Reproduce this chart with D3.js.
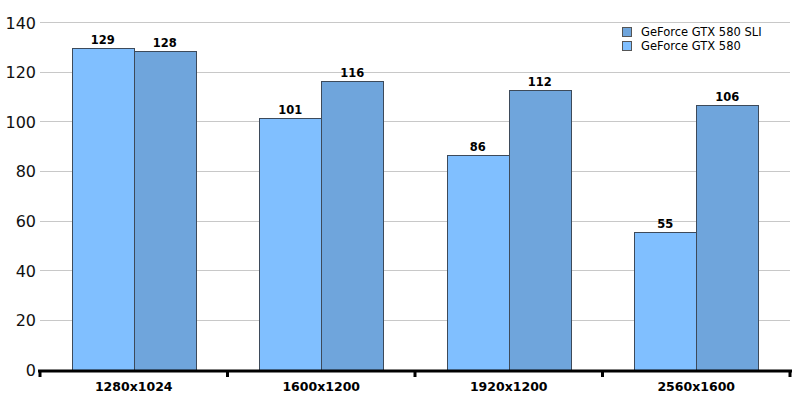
<!DOCTYPE html>
<html><head><meta charset="utf-8">
<script src="https://cdn.jsdelivr.net/npm/d3@7"></script>
<style>body{margin:0;background:#fff;} svg{display:block;}</style>
</head><body>
<svg id="c" width="805" height="405"></svg>
<script>
const categories = ["1280x1024","1600x1200","1920x1200","2560x1600"];
const seriesNames = ["GeForce GTX 580","GeForce GTX 580 SLI"];
const gtx580 = [129,101,86,55];
const gtx580sli = [128,116,112,106];
const yTicks = [0,20,40,60,80,100,120,140];
const colors = ["#80BFFF","#6FA5DC"];

const svg = d3.select("#c");
const x0 = d3.scaleBand().domain(categories).range([40,790]).padding(0);
const x1 = d3.scaleBand().domain(seriesNames).range([0, x0.bandwidth()]).paddingInner(0).paddingOuter(0.512);
const y = d3.scaleLinear().domain([0,140]).range([370,22.5]);
const font = "DejaVu Sans, Verdana, sans-serif";

// gridlines
svg.append("g").selectAll("line").data(yTicks.filter(d=>d>0)).join("line")
  .attr("x1",40).attr("x2",790).attr("y1",d=>Math.floor(y(d))+0.5).attr("y2",d=>Math.floor(y(d))+0.5)
  .attr("stroke","#c8c8c8").attr("stroke-width",1);

// y labels
svg.append("g").selectAll("text").data(yTicks).join("text")
  .attr("x",36).attr("y",d=>y(d)+6).attr("text-anchor","end")
  .attr("font-family",font).attr("font-size",16).attr("fill","#111").text(d=>d);

const data = categories.map((c,i)=>({cat:c, vals:[gtx580[i], gtx580sli[i]]}));
const g = svg.append("g");
data.forEach(d=>{
  d.vals.forEach((v,j)=>{
    const xx = x0(d.cat)+x1(seriesNames[j]);
    const top = Math.floor(y(v)) - 1;
    g.append("rect").attr("x",Math.round(xx)+0.5).attr("y",top+0.5)
      .attr("width",Math.round(x1.bandwidth())).attr("height",370-top)
      .attr("fill",colors[j]).attr("stroke","#3d4a5a").attr("stroke-width",1);
    g.append("text").attr("x",xx+x1.bandwidth()/2).attr("y",top-4)
      .attr("text-anchor","middle").attr("font-family",font).attr("font-weight","bold")
      .attr("font-size",11.5).attr("fill","#000").text(v);
  });
});

// x axis
svg.append("line").attr("x1",38).attr("x2",792).attr("y1",371).attr("y2",371)
  .attr("stroke","#000").attr("stroke-width",3);
const bounds = categories.map(c=>x0(c)).concat([x0.range()[1]]);
svg.append("g").selectAll("line").data(bounds).join("line")
  .attr("x1",d=>d).attr("x2",d=>d).attr("y1",370).attr("y2",377)
  .attr("stroke","#000").attr("stroke-width",3);
svg.append("g").selectAll("text").data(categories).join("text")
  .attr("x",d=>x0(d)+x0.bandwidth()/2).attr("y",391).attr("text-anchor","middle")
  .attr("font-family",font).attr("font-weight","bold").attr("font-size",12.5).attr("fill","#000").text(d=>d);

// legend
const legendOrder = [1,0];
const lg = svg.append("g");
legendOrder.forEach((j,k)=>{
  lg.append("rect").attr("x",622.5).attr("y",27.5+k*14).attr("width",9).attr("height",9)
    .attr("fill",colors[j]).attr("stroke","#555").attr("stroke-width",1);
  lg.append("text").attr("x",641).attr("y",36+k*14).attr("font-family",font)
    .attr("font-size",11.5).attr("fill","#000").text(seriesNames[j]);
});
</script>
</body></html>
